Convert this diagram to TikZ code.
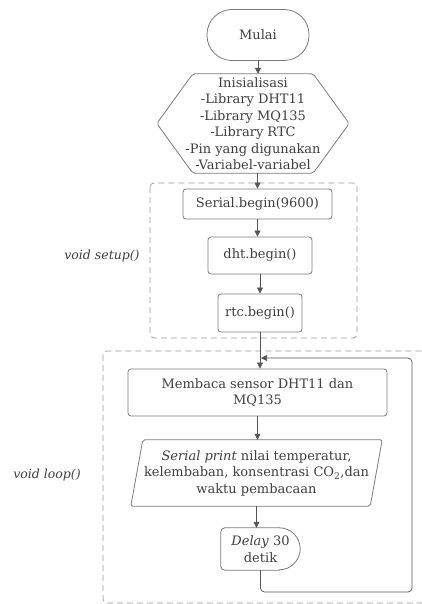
\documentclass[tikz,border=0pt]{standalone}
\usepackage{fontspec}
\setmainfont{DejaVu Serif}
\usetikzlibrary{calc,arrows.meta}
\definecolor{txt}{HTML}{3E3E3E}
\definecolor{brd}{HTML}{7A7A7A}
\definecolor{dsh}{HTML}{9A9A9A}
\definecolor{ln}{HTML}{555555}
\begin{document}
\begin{tikzpicture}[x=1pt,y=-1pt,
  every node/.style={text=txt,font=\fontsize{13}{16.5}\selectfont,align=center,inner sep=0pt},
  box/.style={draw=brd,line width=0.8pt,rounded corners=3pt},
  arr/.style={draw=ln,line width=0.7pt,-{Triangle[length=6pt,width=6pt]}},
  grp/.style={draw=dsh,line width=0.8pt,dash pattern=on 6pt off 4pt,rounded corners=4pt},
  lbl/.style={font=\fontsize{12.5}{14}\selectfont\itshape}]
\useasboundingbox (0,0) rectangle (422,604);
\clip (0,0) rectangle (422,604);
% groups
\draw[grp] (150,183) rectangle (357,338);
\draw[grp] (103,351) rectangle (440,603);
\node[lbl] (setuplbl) at (102,256) {void setup()};
\node[lbl] (looplbl) at (47,475) {void loop()};
% Mulai
\node[box,rounded corners=25pt,minimum width=102pt,minimum height=51pt] (mulai) at (258,35) {Mulai};
% hexagon
\node[minimum width=192pt,minimum height=99pt] (hex) at (253,123.5) {Inisialisasi\\-Library DHT11\\-Library MQ135\\-Library RTC\\-Pin yang digunakan\\-Variabel-variabel};
\draw[draw=brd,line width=0.8pt,rounded corners=2pt] (hex.west) -- ($(hex.north west)+(36,0)$) -- ($(hex.north east)+(-36,0)$) -- (hex.east) -- ($(hex.south east)+(-36,0)$) -- ($(hex.south west)+(36,0)$) -- cycle;
% setup nodes
\node[box,minimum width=149pt,minimum height=30pt] (serial) at (257.5,204) {Serial.begin(9600)};
\node[box,minimum width=104pt,minimum height=37pt] (dht) at (260,255.5) {dht.begin()};
\node[box,minimum width=84pt,minimum height=38pt] (rtc) at (260,313) {rtc.begin()};
% loop nodes
\node[box,minimum width=259pt,minimum height=47pt] (baca) at (257.5,392.5) {Membaca sensor DHT11 dan\\MQ135};
\node[minimum width=251pt,minimum height=66pt] (print) at (256.5,473) {\textit{Serial print} nilai temperatur,\\kelembaban, konsentrasi CO\textsubscript{2},dan\\waktu pembacaan};
\draw[draw=brd,line width=0.8pt,rounded corners=2pt] ($(print.north west)+(12,0)$) -- (print.north east) -- ($(print.south east)+(-12,0)$) -- (print.south west) -- cycle;
\node[minimum width=79pt,minimum height=42pt] (delay) at (260.5,549) {\textit{Delay} 30\\detik};
\draw[draw=brd,line width=0.8pt] ($(delay.north east)+(-21,0)$) arc[start angle=90,end angle=-90,radius=21pt];
\draw[draw=brd,line width=0.8pt,rounded corners=4pt] ($(delay.north east)+(-20.5,0)$) -- (delay.north west) -- (delay.south west) -- ($(delay.south east)+(-20.5,0)$);
% connectors
\draw[arr] (mulai.south) -- (mulai.south |- hex.north);
\draw[arr] (257.5,173) -- (serial.north);
\draw[arr] (serial.south) -- (serial.south |- dht.north);
\draw[arr] (dht.south) -- (rtc.north);
\draw[arr] (rtc.south) -- (rtc.south |- baca.north);
\draw[arr] (baca.south) -- (baca.south |- print.north);
\draw[arr] (print.south) -- (print.south |- delay.north);
\coordinate (back) at (261,358);
\draw[arr,rounded corners=4pt] (delay.south) |- (412,592) |- (back);
\end{tikzpicture}
\end{document}
